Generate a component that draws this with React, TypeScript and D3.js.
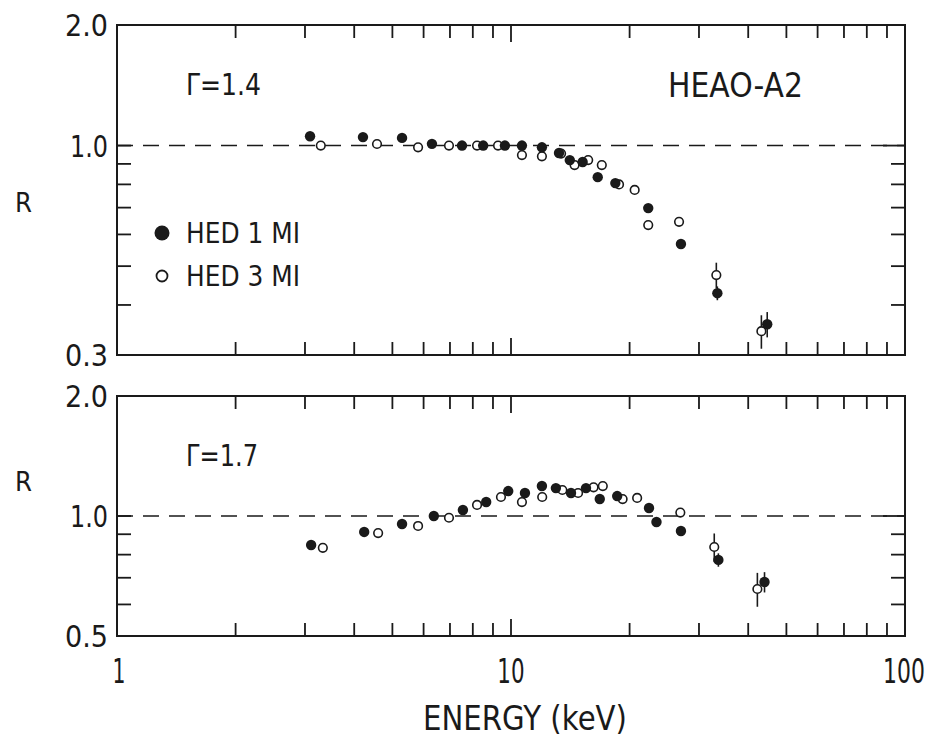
import React from "react";
import * as d3 from "d3";

const topFilledE = [3.09, 4.21, 5.29, 6.3, 7.51, 8.5, 9.65, 10.66, 11.98, 13.24, 14.1, 15.2, 16.6, 18.4, 22.3, 27.0, 33.4, 44.7];
const topFilledR = [1.055, 1.05, 1.045, 1.01, 1.0, 1.0, 1.0, 1.0, 0.99, 0.958, 0.92, 0.91, 0.834, 0.806, 0.698, 0.568, 0.428, 0.358];
const topFilledErr = [0, 0, 0, 0, 0, 0, 0, 0, 0, 0, 0, 0, 0, 0, 0, 0.012, 0.017, 0.026];
const topOpenE = [3.29, 4.57, 5.81, 6.96, 8.2, 9.27, 10.66, 11.98, 13.4, 14.5, 15.7, 17.0, 18.8, 20.6, 22.3, 26.7, 33.2, 43.2];
const topOpenR = [1.0, 1.009, 0.99, 1.0, 1.0, 1.0, 0.947, 0.94, 0.955, 0.894, 0.92, 0.894, 0.8, 0.775, 0.633, 0.645, 0.475, 0.344];
const topOpenErr = [0, 0, 0, 0, 0, 0, 0, 0, 0, 0, 0, 0, 0, 0, 0, 0.015, 0.035, 0.033];

const botFilledE = [3.11, 4.24, 5.29, 6.37, 7.55, 8.65, 9.84, 10.85, 11.98, 13.0, 14.2, 15.5, 16.8, 18.6, 22.4, 23.4, 27.0, 33.6, 44.0];
const botFilledR = [0.846, 0.912, 0.955, 1.0, 1.035, 1.084, 1.155, 1.142, 1.189, 1.175, 1.142, 1.175, 1.103, 1.122, 1.047, 0.966, 0.917, 0.776, 0.683];
const botFilledErr = [0, 0, 0, 0, 0, 0, 0, 0, 0, 0, 0, 0, 0, 0, 0, 0, 0, 0.03, 0.04];
const botOpenE = [3.33, 4.6, 5.81, 6.96, 8.2, 9.43, 10.66, 12.0, 13.5, 14.8, 16.2, 17.1, 19.2, 20.9, 26.9, 32.8, 42.2];
const botOpenR = [0.832, 0.906, 0.944, 0.99, 1.066, 1.116, 1.084, 1.116, 1.162, 1.142, 1.18, 1.189, 1.103, 1.11, 1.02, 0.836, 0.656];
const botOpenErr = [0, 0, 0, 0, 0, 0, 0, 0, 0, 0, 0, 0, 0, 0, 0.02, 0.068, 0.064];

const xTickLabels = ["1", "10", "100"];
const xMinorTicks = [2, 3, 4, 5, 6, 7, 8, 9, 20, 30, 40, 50, 60, 70, 80, 90];
const topYTicks = [0.9, 0.8, 0.7, 0.6, 0.5, 0.4];
const botYTicks = [0.9, 0.8, 0.7, 0.6];
const topYLabels = ["2.0", "1.0", "0.3"];
const botYLabels = ["2.0", "1.0", "0.5"];

const FONT = "'DejaVu Sans', sans-serif";
const INK = "#1a1a1a";

const x = d3.scaleLog().domain([1, 100]).range([117, 905]);

type PanelProps = {
  top: number;
  bottom: number;
  yMin: number;
  yTicks: number[];
  yLabels: string[];
  fE: number[]; fR: number[]; fErr: number[];
  oE: number[]; oR: number[]; oErr: number[];
  gamma: string;
  gammaW: number;
  rY: number;
};

function Panel(p: PanelProps) {
  const y = d3.scaleLog().domain([p.yMin, 2]).range([p.bottom, p.top]);
  const x0 = x.range()[0];
  const x1 = x.range()[1];
  const tl = 13;
  const yl = 14;
  const labelVals = [2, 1, p.yMin];
  return (
    <g>
      <rect x={x0} y={p.top} width={x1 - x0} height={p.bottom - p.top} fill="none" stroke={INK} strokeWidth={2} />
      {xMinorTicks.concat([10]).map((t, i) => (
        <g key={"xt" + i} stroke={INK} strokeWidth={1.8}>
          <line x1={x(t)} x2={x(t)} y1={p.top} y2={p.top + (t === 10 ? tl + 4 : tl)} />
          <line x1={x(t)} x2={x(t)} y1={p.bottom} y2={p.bottom - (t === 10 ? tl + 4 : tl)} />
        </g>
      ))}
      {p.yTicks.concat([1]).map((t, i) => (
        <g key={"yt" + i} stroke={INK} strokeWidth={1.8}>
          <line x1={x0} x2={x0 + yl} y1={y(t)} y2={y(t)} />
          <line x1={x1} x2={x1 - (t === 1 ? yl + 8 : yl)} y1={y(t)} y2={y(t)} />
        </g>
      ))}
      <line x1={x0} x2={x1} y1={y(1)} y2={y(1)} stroke={INK} strokeWidth={1.6} strokeDasharray="16,10" />
      {labelVals.map((v, i) => (
        <text key={"yl" + i} x={108} y={y(v)} dy="0.36em" textAnchor="end" fontSize={31} fontFamily={FONT} fill={INK}
          textLength={v === 1 ? 38 : 43} lengthAdjust="spacingAndGlyphs">
          {p.yLabels[i]}
        </text>
      ))}
      <text x={15} y={p.rY} dy="0.36em" fontSize={27} fontFamily={FONT} fill={INK} textLength={17} lengthAdjust="spacingAndGlyphs">R</text>
      <text x={186} y={p.top + 70} fontSize={30} fontFamily={FONT} fill={INK} textLength={p.gammaW} lengthAdjust="spacingAndGlyphs">{p.gamma}</text>
      {p.oE.map((e, i) => p.oErr[i] > 0 ? (
        <line key={"oe" + i} x1={x(e)} x2={x(e)} y1={y(p.oR[i] - p.oErr[i])} y2={y(p.oR[i] + p.oErr[i])} stroke={INK} strokeWidth={1.6} />
      ) : null)}
      {p.fE.map((e, i) => p.fErr[i] > 0 ? (
        <line key={"fe" + i} x1={x(e)} x2={x(e)} y1={y(p.fR[i] - p.fErr[i])} y2={y(p.fR[i] + p.fErr[i])} stroke={INK} strokeWidth={1.6} />
      ) : null)}
      {p.oE.map((e, i) => (
        <circle key={"o" + i} cx={x(e)} cy={y(p.oR[i])} r={4.3} fill="white" stroke={INK} strokeWidth={1.6} />
      ))}
      {p.fE.map((e, i) => (
        <circle key={"f" + i} cx={x(e)} cy={y(p.fR[i])} r={5.2} fill={INK} />
      ))}
    </g>
  );
}

export default function App() {
  const xlScale = [0.6, 0.63, 0.645];
  return (
    <svg width={930} height={739} style={{ position: "absolute", left: 0, top: 0, background: "white" }}>
      <rect width={930} height={739} fill="white" />
      <Panel top={25} bottom={355} yMin={0.3} yTicks={topYTicks} yLabels={topYLabels}
        fE={topFilledE} fR={topFilledR} fErr={topFilledErr}
        oE={topOpenE} oR={topOpenR} oErr={topOpenErr} gamma="Γ=1.4" gammaW={75} rY={202} />
      <Panel top={396} bottom={636} yMin={0.5} yTicks={botYTicks} yLabels={botYLabels}
        fE={botFilledE} fR={botFilledR} fErr={botFilledErr}
        oE={botOpenE} oR={botOpenR} oErr={botOpenErr} gamma="Γ=1.7" gammaW={72} rY={481} />
      <text x={668} y={97} fontSize={34} fontFamily={FONT} fill={INK} textLength={135} lengthAdjust="spacingAndGlyphs">HEAO-A2</text>
      <circle cx={162} cy={233} r={7.5} fill={INK} />
      <text x={186} y={243} fontSize={28} fontFamily={FONT} fill={INK} textLength={114} lengthAdjust="spacingAndGlyphs">HED 1 MI</text>
      <circle cx={162} cy={276} r={5.5} fill="white" stroke={INK} strokeWidth={1.8} />
      <text x={186} y={286} fontSize={28} fontFamily={FONT} fill={INK} textLength={114} lengthAdjust="spacingAndGlyphs">HED 3 MI</text>
      {[1, 10, 100].map((v, i) => (
        <text key={"xl" + i}
          transform={`translate(${i === 2 ? 904 : x(v) + (i === 0 ? 2 : 0)},683) scale(${xlScale[i]},1)`}
          textAnchor="middle" fontSize={34} fontFamily={FONT} fill={INK}>
          {xTickLabels[i]}
        </text>
      ))}
      <text x={423} y={730} fontSize={33} fontFamily={FONT} fill={INK} textLength={204} lengthAdjust="spacingAndGlyphs">ENERGY (keV)</text>
    </svg>
  );
}
